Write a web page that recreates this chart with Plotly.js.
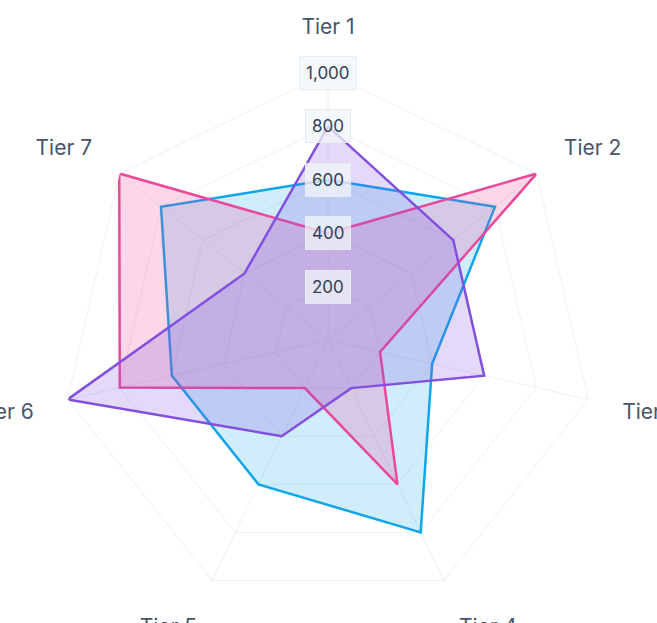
<!DOCTYPE html>
<html>
<head>
<meta charset="utf-8">
<script src="https://cdn.plot.ly/plotly-3.0.1.min.js"></script>
<style>body{margin:0;background:#fff}</style>
</head>
<body>
<div id="chart" style="width:657px;height:623px"></div>
<script>
var categories = ["Tier 1", "Tier 2", "Tier 3", "Tier 4", "Tier 5", "Tier 6", "Tier 7"];
var blueValues = [600, 800, 400, 800, 600, 600, 800];
var pinkValues = [400, 1000, 200, 600, 200, 800, 1000];
var purpleValues = [800, 600, 600, 200, 400, 1000, 400];
var tickValues = [200, 400, 600, 800, 1000];

function closed(arr) { return arr.concat([arr[0]]); }

function series(values, color, fill) {
    return {
        type: "scatterpolar",
        r: closed(values),
        theta: closed(categories),
        mode: "lines",
        fill: "toself",
        fillcolor: fill,
        line: { color: color, width: 2.5 },
        hoverinfo: "skip",
        showlegend: false
    };
}

var data = [
    series(blueValues, "#0ea5e9", "rgba(14,165,233,0.2)"),
    series(pinkValues, "#ec4899", "rgba(236,72,153,0.22)"),
    series(purpleValues, "#8250df", "rgba(130,80,223,0.22)")
];

var margin = { l: 61, r: 62, t: 73, b: 16 };

// pill-shaped tick labels along the Tier 1 axis
var annotations = tickValues.map(function (v) {
    return {
        xref: "paper", yref: "paper",
        x: 0.5, y: 0.5 + (v / 1000) * 0.5,
        yanchor: "middle", xanchor: "center",
        text: v.toLocaleString("en-US"),
        showarrow: false,
        font: { family: "Inter", size: 17, color: "#334155" },
        bgcolor: "rgba(241,245,249,0.75)",
        bordercolor: "#e8ecf1",
        borderwidth: 1,
        borderpad: 6
    };
});

var layout = {
    width: 657,
    height: 623,
    margin: margin,
    paper_bgcolor: "#ffffff",
    font: { family: "Inter", color: "#475569" },
    polar: {
        gridshape: "linear",
        bgcolor: "#ffffff",
        radialaxis: {
            range: [0, 1000],
            tickvals: tickValues,
            showticklabels: false,
            ticks: "",
            showline: false,
            gridcolor: "#eef0f3"
        },
        angularaxis: {
            direction: "clockwise",
            rotation: 90,
            tickfont: { family: "Inter", size: 21, color: "#475569" },
            ticks: "outside",
            ticklen: 30,
            tickcolor: "rgba(0,0,0,0)",
            linecolor: "#eef0f3",
            gridcolor: "#eef0f3"
        }
    },
    annotations: annotations
};

Plotly.newPlot("chart", data, layout, { displayModeBar: false, responsive: false });
</script>
</body>
</html>
